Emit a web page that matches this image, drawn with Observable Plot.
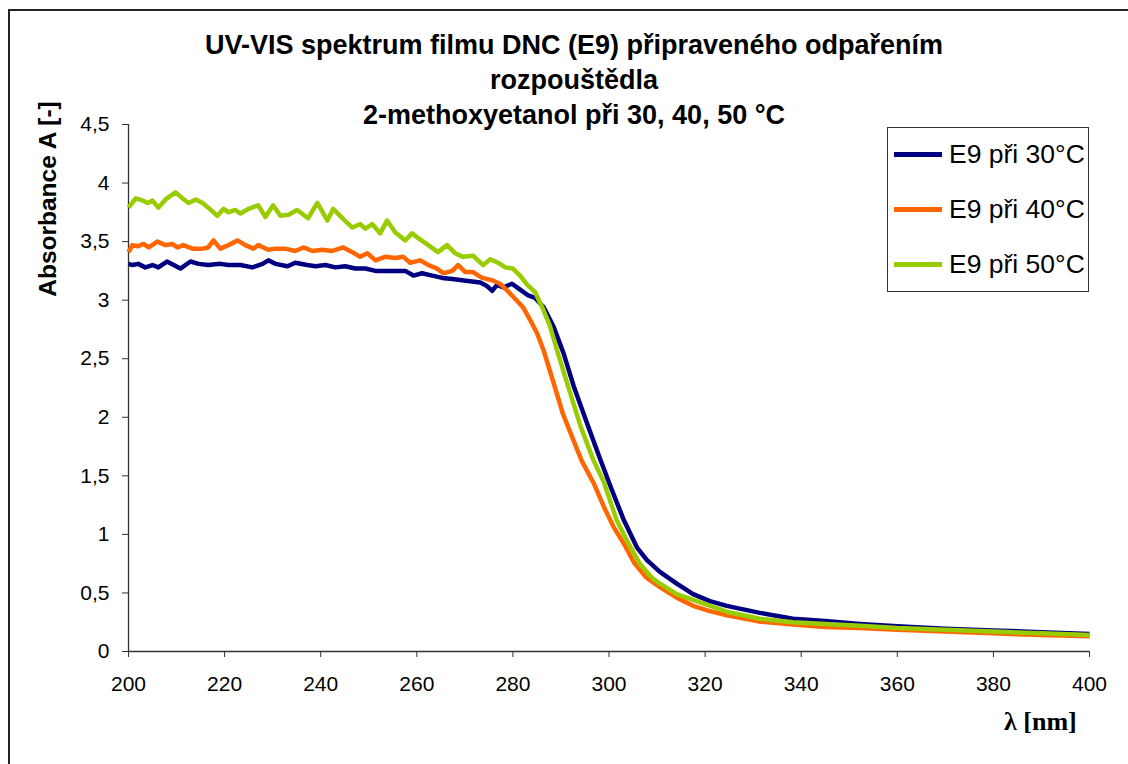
<!DOCTYPE html>
<html>
<head>
<meta charset="utf-8">
<script src="https://cdn.jsdelivr.net/npm/d3@7"></script>
<script src="https://cdn.jsdelivr.net/npm/@observablehq/plot@0.6"></script>
<style>
  html, body { margin: 0; padding: 0; background: #fff; }
  #wrap { position: relative; width: 1128px; height: 764px; overflow: hidden; background: #fff; }
  #frame { position: absolute; left: 8px; top: 9px; width: 1140px; height: 800px; border: 2px solid #222; box-sizing: border-box; }
  #chart { position: absolute; left: 0; top: 0; }
  #title { position: absolute; left: 174px; width: 800px; top: 28px; text-align: center;
           font-family: "Liberation Sans", Arial, sans-serif; font-weight: bold; font-size: 27px; line-height: 35px; color: #000; }
  #ylabel { position: absolute; left: 48px; top: 199px; transform: translate(-50%, -50%) rotate(-90deg);
            white-space: nowrap; font-family: "Liberation Sans", Arial, sans-serif; font-weight: bold; font-size: 24.5px; color: #000; }
  #xlabel { position: absolute; left: 1004px; top: 707px; font-family: "Liberation Serif", "Times New Roman", serif;
            font-weight: bold; font-size: 26px; color: #000; white-space: nowrap; }
  #legend { position: absolute; left: 887px; top: 127px; width: 202px; height: 165px; box-sizing: border-box;
            border: 1.5px solid #333; background: #fff; font-family: "Liberation Sans", Arial, sans-serif; font-size: 26.5px; color: #000; }
  .lrow { position: absolute; left: 6px; height: 30px; display: flex; align-items: center; white-space: nowrap; }
  .lrow .sw { width: 48px; height: 5px; margin-right: 7px; }
</style>
</head>
<body>
<div id="wrap">
  <div id="frame"></div>
  <div id="chart"></div>
  <div id="title"></div>
  <div id="ylabel"></div>
  <div id="xlabel"></div>
  <div id="legend"></div>
</div>
<script>
// ---- Data ----
const titleLines = ["UV-VIS spektrum filmu DNC (E9) připraveného odpařením", "rozpouštědla", "2-methoxyetanol při 30, 40, 50 °C"];
const yLabel = "Absorbance A [-]";
const xLabel = "λ [nm]";
const seriesNames = ["E9 při 30°C", "E9 při 40°C", "E9 při 50°C"];
const seriesColors = ["#000080", "#FF6600", "#99CC00"];
const xTicks = [200, 220, 240, 260, 280, 300, 320, 340, 360, 380, 400];
const yTicks = [0, 0.5, 1, 1.5, 2, 2.5, 3, 3.5, 4, 4.5];

const wl30 = [200, 200.8, 202, 203.5, 205, 206.2, 208, 209.4, 210.8, 212.9, 214.6, 216.6, 219.1, 220.8, 223.3, 225.8, 227.9, 229.1, 230.6, 233.1, 234.7, 237.2, 238.9, 241, 243, 245.1, 247.2, 249.3, 251.4, 253.4, 255.5, 257.6, 259.3, 261.1, 263.2, 265.3, 267.4, 269.4, 271.5, 273.2, 274.6, 275.7, 276.7, 278, 279.8, 281.5, 283.2, 284.6, 286.4, 288.5, 290.6, 292.7, 295.5, 298, 300.4, 303.1, 305.8, 307.9, 310.6, 314.1, 317.5, 321, 324.5, 331.4, 338.3, 345, 352.2, 360, 370, 380, 390, 400];
const a30 = [3.31, 3.30, 3.31, 3.28, 3.30, 3.28, 3.33, 3.30, 3.27, 3.33, 3.31, 3.30, 3.31, 3.30, 3.30, 3.28, 3.31, 3.34, 3.31, 3.29, 3.32, 3.30, 3.29, 3.30, 3.28, 3.29, 3.27, 3.27, 3.25, 3.25, 3.25, 3.25, 3.21, 3.23, 3.21, 3.19, 3.18, 3.17, 3.16, 3.15, 3.12, 3.08, 3.13, 3.11, 3.14, 3.09, 3.04, 3.02, 2.94, 2.77, 2.54, 2.26, 1.94, 1.66, 1.40, 1.12, 0.89, 0.78, 0.68, 0.58, 0.49, 0.43, 0.39, 0.33, 0.28, 0.26, 0.235, 0.215, 0.195, 0.18, 0.165, 0.15];

const wl40 = [200, 200.8, 201.9, 203.1, 204.2, 206, 207.7, 209.1, 210.2, 211.4, 213.3, 215.4, 216.6, 217.7, 219.1, 220.8, 222.7, 224.3, 226, 227, 229.1, 230.6, 232.6, 234.7, 236.4, 238.3, 240.3, 242.4, 244.7, 246.6, 248.2, 249.7, 251.4, 253.4, 255.5, 257.2, 258.6, 260.7, 262.4, 264.2, 265.5, 267.4, 268.6, 270.1, 271.7, 273.6, 275.7, 277.3, 278.4, 280.5, 282.1, 283.6, 285, 286.4, 288.5, 290.4, 294.3, 296.9, 299, 301, 303.1, 305.2, 307.8, 310.6, 314.1, 317.5, 321, 324.5, 331.4, 338.3, 345, 352.2, 360, 370, 380, 390, 400];
const a40 = [3.41, 3.47, 3.46, 3.48, 3.45, 3.50, 3.47, 3.48, 3.45, 3.47, 3.44, 3.44, 3.45, 3.51, 3.44, 3.47, 3.51, 3.47, 3.44, 3.47, 3.43, 3.44, 3.44, 3.42, 3.45, 3.42, 3.43, 3.42, 3.45, 3.41, 3.37, 3.40, 3.34, 3.37, 3.36, 3.37, 3.32, 3.34, 3.30, 3.27, 3.23, 3.25, 3.30, 3.24, 3.24, 3.19, 3.17, 3.14, 3.10, 3.01, 2.94, 2.83, 2.72, 2.57, 2.29, 2.03, 1.63, 1.43, 1.23, 1.06, 0.92, 0.76, 0.63, 0.55, 0.46, 0.39, 0.345, 0.31, 0.255, 0.23, 0.21, 0.20, 0.185, 0.17, 0.155, 0.14, 0.13];

const wl50 = [200, 201.5, 203, 204, 205, 206.2, 207.7, 209.8, 211.2, 212.5, 214, 215.4, 216.6, 218.5, 219.8, 220.8, 222.2, 223.3, 225, 227, 228.5, 230.1, 231.6, 233.3, 235.1, 237.4, 239.3, 241.4, 242.6, 244.5, 246.6, 248.2, 249.3, 250.7, 252.4, 253.8, 255.5, 257.6, 259, 260.3, 262.4, 264.4, 266.3, 268, 269.6, 271.7, 273.8, 275.3, 276.9, 278.4, 280, 281.5, 283, 284.6, 286.1, 287.7, 289.2, 291.3, 294.1, 296.8, 298.9, 301.6, 303.7, 306.4, 309.2, 310.6, 314.1, 317.5, 324.5, 331.4, 338.3, 345, 352.2, 360, 370, 380, 390, 400];
const a50 = [3.79, 3.87, 3.85, 3.83, 3.85, 3.79, 3.86, 3.92, 3.87, 3.83, 3.86, 3.83, 3.79, 3.72, 3.78, 3.75, 3.77, 3.74, 3.78, 3.81, 3.71, 3.81, 3.72, 3.73, 3.77, 3.70, 3.83, 3.68, 3.78, 3.70, 3.62, 3.65, 3.61, 3.65, 3.57, 3.68, 3.58, 3.51, 3.57, 3.53, 3.47, 3.41, 3.47, 3.40, 3.37, 3.38, 3.30, 3.35, 3.32, 3.28, 3.27, 3.21, 3.13, 3.07, 2.94, 2.78, 2.57, 2.29, 1.92, 1.63, 1.45, 1.12, 0.95, 0.75, 0.62, 0.58, 0.49, 0.44, 0.34, 0.28, 0.25, 0.235, 0.22, 0.20, 0.185, 0.17, 0.155, 0.14];

// ---- Build table ----
const wls = [wl30, wl40, wl50];
const abs = [a30, a40, a50];
const data = seriesNames.flatMap((name, k) => wls[k].map((w, i) => ({wl: w, a: abs[k][i], name})));

const fmt = d => String(d).replace(".", ",");

const chart = Plot.plot({
  width: 1128,
  height: 764,
  marginLeft: 128,
  marginRight: 39,
  marginTop: 124,
  marginBottom: 113,
  style: {fontFamily: "'Liberation Sans', Arial, sans-serif", fontSize: "21px", color: "#000", background: "transparent", overflow: "visible"},
  x: {domain: [200, 400]},
  y: {domain: [0, 4.5]},
  color: {domain: seriesNames, range: seriesColors},
  marks: [
    Plot.axisY({ticks: yTicks, tickSize: 6, tickPadding: 13, tickFormat: fmt, label: null, stroke: "#333", fill: "#000", fontSize: 21}),
    Plot.axisX({ticks: xTicks, tickSize: 6, tickPadding: 19, tickFormat: d => String(d), label: null, stroke: "#333", fill: "#000", fontSize: 21}),
    Plot.ruleX([200], {stroke: "#333", strokeWidth: 1.3}),
    Plot.ruleY([0], {stroke: "#333", strokeWidth: 1.3}),
    Plot.line(data, {x: "wl", y: "a", z: "name", stroke: "name", strokeWidth: 4.5, strokeLinejoin: "round", strokeLinecap: "butt"})
  ]
});
document.getElementById("chart").appendChild(chart);

// ---- Text and legend ----
document.getElementById("title").innerHTML = titleLines.map(t => `<div>${t}</div>`).join("");
document.getElementById("ylabel").textContent = yLabel;
document.getElementById("xlabel").textContent = xLabel;
const rowCenters = [26, 81, 136];
document.getElementById("legend").innerHTML = seriesNames.map((n, i) =>
  `<div class="lrow" style="top:${rowCenters[i] - 15}px"><div class="sw" style="background:${seriesColors[i]}"></div><span>${n}</span></div>`
).join("");
</script>
</body>
</html>
